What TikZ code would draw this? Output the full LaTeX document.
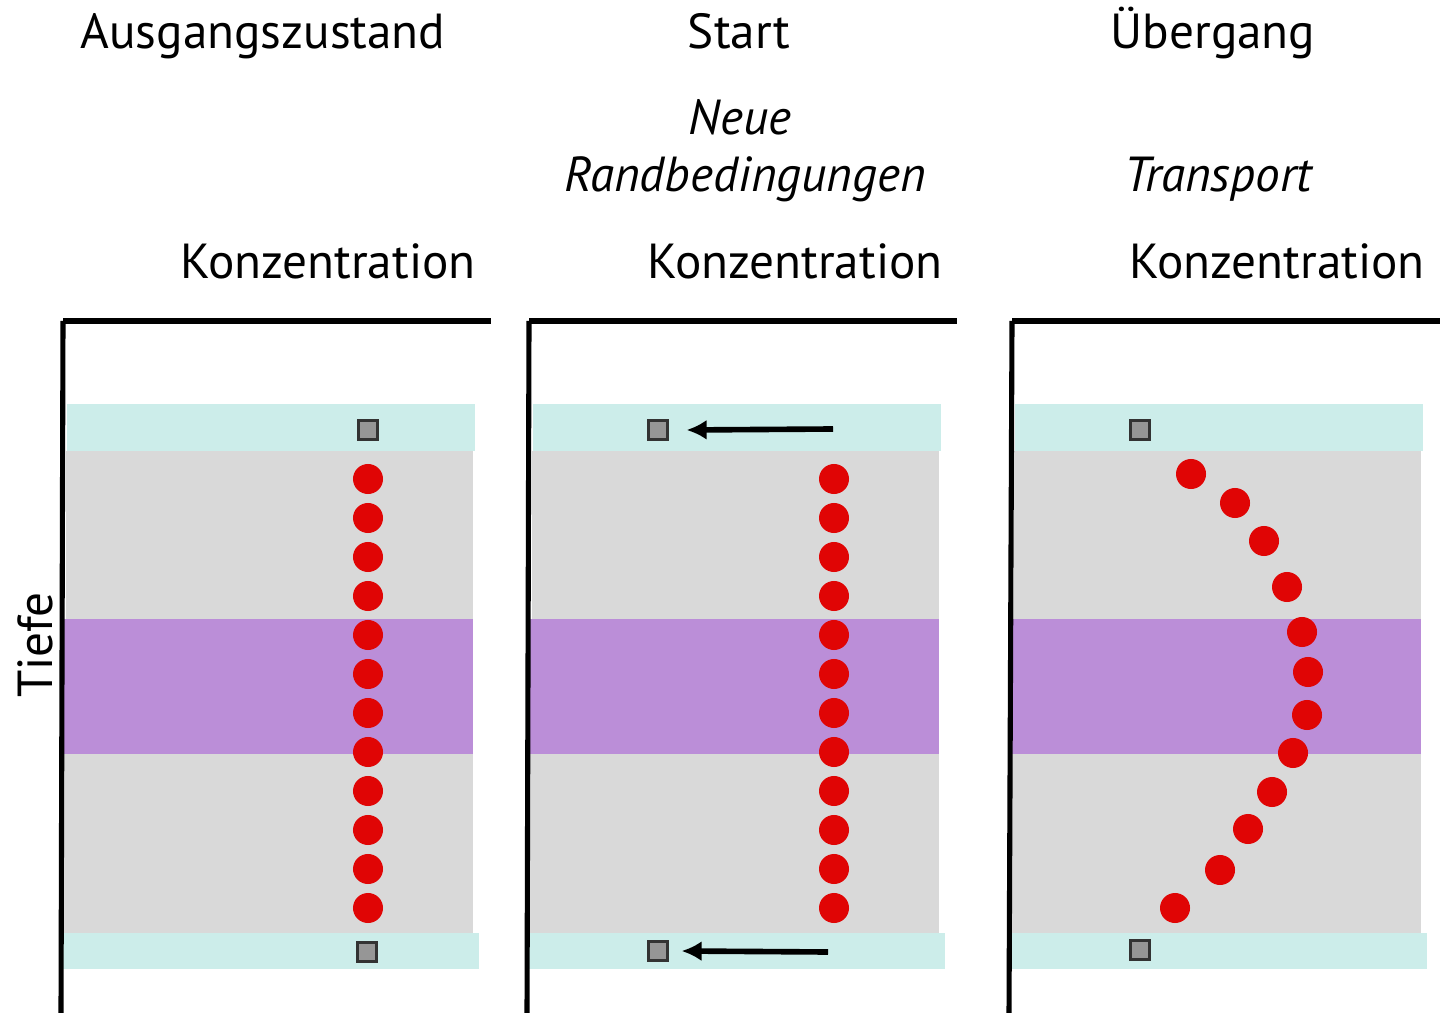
\documentclass[tikz,border=0pt]{standalone}
\usepackage{fontspec}
\setmainfont{PT Sans}
\usepackage{tikz}
\usetikzlibrary{arrows.meta,positioning}
\definecolor{bandCyan}{RGB}{204,237,234}
\definecolor{bandGray}{RGB}{217,217,217}
\definecolor{bandLila}{RGB}{187,142,216}
\definecolor{dotRed}{RGB}{224,5,5}
\definecolor{boxGray}{RGB}{150,150,150}

\begin{document}
\begin{tikzpicture}[
  x=0.01cm, y=-0.01cm,
  lbl/.style={font=\fontsize{14}{17}\selectfont, inner sep=0pt, anchor=base},
  ilbl/.style={lbl, font=\fontsize{14}{17}\selectfont\itshape},
  frame/.style={line width=1.45pt, black},
  probe/.style={rectangle, draw=black!80, fill=boxGray, line width=0.6pt,
                minimum size=0.19cm, inner sep=0pt},
  dot/.style={circle, fill=dotRed, minimum size=0.3cm, inner sep=0pt},
  arr/.style={-{Latex[length=0.2cm,width=0.2cm]}, line width=1.6pt}
]
  \useasboundingbox (0,0) rectangle (1440,1013);

  % soil layers per panel: {x-offset}
  \foreach \o in {0,466,948} {
    \fill[bandCyan] (\o+67,404) rectangle (\o+475,451);
    \fill[bandGray] (\o+66,451) rectangle (\o+473,619);
    \fill[bandLila] (\o+64,619) rectangle (\o+473,754);
    \fill[bandGray] (\o+64,754) rectangle (\o+473,933);
    \fill[bandCyan] (\o+63,933) rectangle (\o+479,969);
  }

  % axes
  \draw[frame] (63,321) -- (491,321);
  \draw[frame] (63,321) -- (61,1013);
  \draw[frame] (529,321) -- (957,321);
  \draw[frame] (529,321) -- (527,1013);
  \draw[frame] (1012,321) -- (1440,321);
  \draw[frame] (1012,321) -- (1009,1013);

  % headings
  \node[lbl] (h1) at (263,49) {Ausgangszustand};
  \node[lbl] (h2) at (739,49) {Start};
  \node[lbl] (h3) at (1213,49) {Übergang};
  \node[ilbl] (s2a) at (740,135) {Neue};
  \node[ilbl] (s2b) at (745,192) {Randbedingungen};
  \node[ilbl] (s3) at (1218,192) {Transport};
  \node[lbl] (k1) at (328,279) {Konzentration};
  \node[lbl] (k2) at (795,279) {Konzentration};
  \node[lbl] (k3) at (1277,279) {Konzentration};
  \node[lbl, rotate=90] (tiefe) at (52,645) {Tiefe};

  % probes at top and bottom
  \node[probe] (p1t) at (368,430) {};
  \node[probe] (p1b) at (367,952) {};
  \node[probe] (p2t) at (658,430) {};
  \node[probe] (p2b) at (658,951) {};
  \node[probe] (p3t) at (1140,430) {};
  \node[probe] (p3b) at (1140,950) {};

  % concentration points
  \foreach \i in {0,...,11} {
    \node[dot] (a\i) at (368,479+39*\i) {};
    \node[dot] (b\i) at (834,479+39*\i) {};
  }
  \foreach \x/\y [count=\i] in {1191/474,1235/503,1264/541,1287/587,1302/632,
      1308/672,1307/715,1293/753,1272/792,1248/829,1220/870,1175/908}
    \node[dot] (c\i) at (\x,\y) {};

  % new boundary conditions
  \coordinate (q1) at (833,429);
  \coordinate (q2) at (828,952);
  \draw[arr] (q1) -- ([xshift=0.18cm]p2t.east);
  \draw[arr] (q2) -- ([xshift=0.13cm]p2b.east);
\end{tikzpicture}
\end{document}
